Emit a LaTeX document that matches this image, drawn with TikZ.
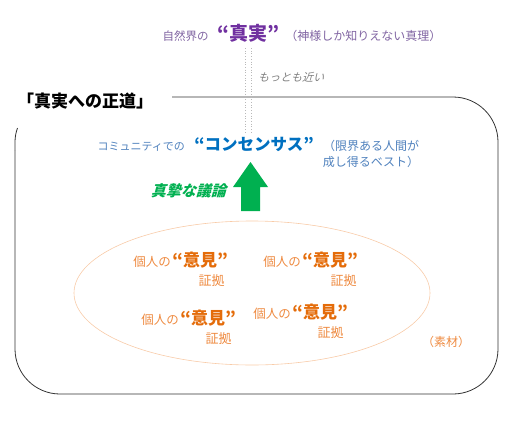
\documentclass[tikz,border=0pt]{standalone}
\usepackage{fontspec}
\setmainfont{Noto Sans CJK JP}
\usetikzlibrary{positioning,shapes.geometric}
\definecolor{truthpurple}{HTML}{7030A0}
\definecolor{lightpurple}{HTML}{8064A2}
\definecolor{consblue}{HTML}{0070C0}
\definecolor{lightblue}{HTML}{4F81BD}
\definecolor{debgreen}{HTML}{00B050}
\definecolor{opinorange}{HTML}{E46C0A}
\definecolor{lightorange}{HTML}{EE8A40}
\definecolor{poolorange}{HTML}{F8CBA8}
\tikzset{
  smalltxt/.style={inner sep=0pt, font=\fontsize{11.5}{13}\selectfont},
  bigtxt/.style={inner sep=0pt, font=\fontsize{17}{19}\selectfont\bfseries},
  slanted/.style={xslant=0.28},
  linkline/.style={draw=gray!55, dotted, line width=0.7pt},
  evid/.style={inner sep=0pt, text=lightorange, font=\fontsize{13}{15}\selectfont},
  indiv/.style={inner sep=0pt, text=lightorange, font=\fontsize{12.5}{14}\selectfont},
  opin/.style={inner sep=0pt, text=opinorange, font=\fontsize{17}{19}\selectfont\bfseries}
}
\begin{document}
\begin{tikzpicture}[x=1pt,y=-1pt]
\useasboundingbox (0,0) rectangle (521,420);

% the truth on top
\node[bigtxt, text=truthpurple, anchor=base, font=\fontsize{19}{21}\selectfont\bfseries] (truth) at (248,41) {“真実”};
\node[smalltxt, text=lightpurple, anchor=base east] (nature) at ([xshift=-8pt]truth.base west) {自然界の};
\node[smalltxt, text=lightpurple, anchor=base west, font=\fontsize{12}{14}\selectfont] (god) at ([xshift=6pt]truth.base east) {（神様しか知りえない真理）};
\node[smalltxt, slanted, text=gray, anchor=base west, font=\fontsize{11}{13}\selectfont] (closest) at (258,81) {もっとも近い};

% the road
\node[inner sep=0pt, anchor=base west, font=\fontsize{17}{19}\selectfont\bfseries] (road) at (17,107) {「真実への正道」};
\draw[line width=0.8pt, black!80, rounded corners=45pt] (172,97) -- (498,97) -- (498,394) -- (15,394) -- (15,150);
\draw[line width=0.8pt, black!80] (15,150) -- (15,142) .. controls (15,137) and (16,132) .. (17.5,128);

% consensus
\node[bigtxt, text=consblue, anchor=base, font=\fontsize{16.5}{18}\selectfont\bfseries] (cons) at (254,150) {“コンセンサス”};
\node[smalltxt, text=lightblue, anchor=base east, font=\fontsize{11}{13}\selectfont] (comm) at ([xshift=-9pt]cons.base west) {コミュニティでの};
\node[smalltxt, text=lightblue, anchor=base west, font=\fontsize{12}{14}\selectfont] (limit) at ([xshift=9pt]cons.base east) {（限界ある人間が};
\node[smalltxt, text=lightblue, anchor=base east, font=\fontsize{12}{14}\selectfont] (best) at ([yshift=-16pt]limit.base east) {成し得るベスト）};

\draw[linkline] ([xshift=-3pt,yshift=-5pt]truth.south) -- ([xshift=-3pt,yshift=3pt]truth.south |- cons.north);
\draw[linkline] ([xshift=3pt,yshift=-5pt]truth.south) -- ([xshift=3pt,yshift=3pt]truth.south |- cons.north);

% debate arrow
\coordinate (tip) at (250.5,162);
\fill[debgreen] (tip) -- ++(17.5,25) -- ++(-8,0) -- ++(0,24) -- ++(-19,0) -- ++(0,-24) -- ++(-8,0) -- cycle;
\node[inner sep=0pt, slanted, text=debgreen, anchor=base east, font=\fontsize{15}{17}\selectfont\bfseries] (debate) at (226,196) {真摯な議論};

% opinions
\node[draw=poolorange, line width=0.6pt, ellipse, minimum width=356pt, minimum height=144pt, inner sep=0pt] (pool) at (252,293) {};

\node[opin, anchor=base] (op1) at (200,266) {“意見”};
\node[indiv, anchor=base east] (ind1) at ([xshift=-1pt]op1.base west) {個人の};
\node[evid, anchor=base east] (ev1) at ([xshift=-3pt,yshift=-19pt]op1.base east) {証拠};

\node[opin, anchor=base] (op2) at (330,266) {“意見”};
\node[indiv, anchor=base east] (ind2) at ([xshift=-1pt]op2.base west) {個人の};
\node[evid, anchor=base east] (ev2) at ([xshift=-1pt,yshift=-19pt]op2.base east) {証拠};

\node[opin, anchor=base] (op3) at (208,324) {“意見”};
\node[indiv, anchor=base east] (ind3) at ([xshift=-1pt]op3.base west) {個人の};
\node[evid, anchor=base east] (ev3) at ([xshift=-4pt,yshift=-19pt]op3.base east) {証拠};

\node[opin, anchor=base] (op4) at (320,318) {“意見”};
\node[indiv, anchor=base east] (ind4) at ([xshift=-1pt]op4.base west) {個人の};
\node[evid, anchor=base east] (ev4) at ([xshift=-4pt,yshift=-19pt]op4.base east) {証拠};

\node[evid, anchor=base west, font=\fontsize{12}{14}\selectfont] (material) at (422,346) {（素材）};
\end{tikzpicture}
\end{document}
